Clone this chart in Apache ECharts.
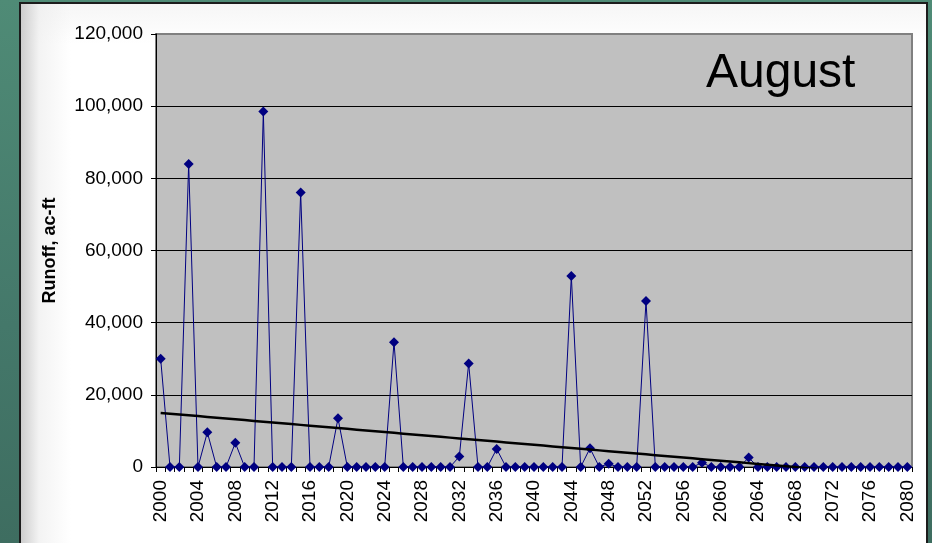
<!DOCTYPE html>
<html>
<head>
<meta charset="utf-8">
<script src="https://cdn.jsdelivr.net/npm/echarts@6/dist/echarts.min.js"></script>
<style>
  html, body { margin: 0; padding: 0; }
  body {
    width: 932px; height: 543px; overflow: hidden; position: relative;
    background: linear-gradient(to bottom, #4f8b76 0%, #44786a 60%, #3e6d60 100%);
  }
  #panel {
    position: absolute; left: 19px; top: 2px; width: 905px; height: 560px;
    border-left: 2px solid #1c1c1c; border-top: 2px solid #1c1c1c; border-right: 2px solid #1c1c1c;
    background:
      linear-gradient(to right, rgba(200,200,200,0.9) 0px, rgba(235,235,235,0.6) 18px, rgba(255,255,255,0) 50px),
      linear-gradient(to bottom, #f6f6f6 0px, #ffffff 40px);
  }
  #chart { position: absolute; left: 0; top: 0; width: 932px; height: 543px; }
</style>
</head>
<body>
<div id="panel"></div>
<div id="chart"></div>
<script>
// Years on the category axis
const years = [
  2000, 2001, 2002, 2003, 2004, 2005, 2006, 2007, 2008, 2009,
  2010, 2011, 2012, 2013, 2014, 2015, 2016, 2017, 2018, 2019,
  2020, 2021, 2022, 2023, 2024, 2025, 2026, 2027, 2028, 2029,
  2030, 2031, 2032, 2033, 2034, 2035, 2036, 2037, 2038, 2039,
  2040, 2041, 2042, 2043, 2044, 2045, 2046, 2047, 2048, 2049,
  2050, 2051, 2052, 2053, 2054, 2055, 2056, 2057, 2058, 2059,
  2060, 2061, 2062, 2063, 2064, 2065, 2066, 2067, 2068, 2069,
  2070, 2071, 2072, 2073, 2074, 2075, 2076, 2077, 2078, 2079,
  2080
];

// August runoff, ac-ft
const runoff = [
  30000, 0, 0, 84000, 0, 9600, 0, 0, 6700, 0,
  0, 98500, 0, 0, 0, 76100, 0, 0, 0, 13500,
  0, 0, 0, 0, 0, 34600, 0, 0, 0, 0,
  0, 0, 2900, 28700, 0, 0, 5000, 0, 0, 0,
  0, 0, 0, 0, 52900, 0, 5200, 0, 900, 0,
  0, 0, 46000, 0, 0, 0, 0, 0, 1200, 0,
  0, 0, 0, 2600, 0, 0, 0, 0, 0, 0,
  0, 0, 0, 0, 0, 0, 0, 0, 0, 0,
  0
];

const yTicks = [0, 20000, 40000, 60000, 80000, 100000, 120000];
const monthTitle = 'August';
const yTitle = 'Runoff, ac-ft';

// Least-squares linear trend of the runoff series
function linearTrend(values) {
  const n = values.length;
  let sx = 0, sy = 0, sxx = 0, sxy = 0;
  values.forEach((v, i) => { sx += i; sy += v; sxx += i * i; sxy += i * v; });
  const slope = (n * sxy - sx * sy) / (n * sxx - sx * sx);
  const icpt = (sy - slope * sx) / n;
  return values.map((_, i) => icpt + slope * i);
}
const trend = linearTrend(runoff);

const chart = echarts.init(document.getElementById('chart'), null, { renderer: 'canvas' });
const fontFam = 'Arial, "Liberation Sans", Helvetica, sans-serif';

chart.setOption({
  backgroundColor: 'transparent',
  animation: false,
  textStyle: { fontFamily: fontFam },
  grid: {
    left: 156, right: 20, top: 34, bottom: 76,
    show: true, backgroundColor: '#c0c0c0', borderColor: '#808080', borderWidth: 2
  },
  title: {
    text: monthTitle, left: 701, top: 45,
    textStyle: { fontFamily: fontFam, fontSize: 48, fontWeight: 'normal', color: '#000' }
  },
  xAxis: {
    type: 'category', data: years, boundaryGap: true,
    axisLine: { lineStyle: { color: '#000', width: 1 } },
    axisTick: { show: true, interval: 0, length: 5, lineStyle: { color: '#000' } },
    axisLabel: { interval: 3, rotate: 90, margin: 13, color: '#000', fontSize: 19, fontFamily: fontFam },
    splitLine: { show: false }
  },
  yAxis: {
    type: 'value', min: yTicks[0], max: yTicks[yTicks.length - 1], interval: 20000,
    name: yTitle, nameLocation: 'middle', nameGap: 97, nameRotate: 90,
    nameTextStyle: { fontFamily: fontFam, fontSize: 18, fontWeight: 'bold', color: '#000' },
    axisLine: { show: true, lineStyle: { color: '#000', width: 1 } },
    axisTick: { show: true, length: 5, lineStyle: { color: '#000' } },
    axisLabel: {
      margin: 13, color: '#000', fontSize: 19, fontFamily: fontFam,
      formatter: v => v.toLocaleString('en-US')
    },
    splitLine: {
      show: true,
      lineStyle: { color: ['#000', '#000', '#000', '#000', '#000', '#000', '#808080'], width: 1 }
    }
  },
  series: [
    {
      name: 'Runoff', type: 'line', data: runoff,
      symbol: 'diamond', symbolSize: 10, showAllSymbol: true,
      lineStyle: { color: '#000080', width: 1 },
      itemStyle: { color: '#000080' },
      z: 3
    },
    {
      name: 'Trend', type: 'line', data: trend,
      symbol: 'none', clip: true,
      lineStyle: { color: '#000', width: 2.5 },
      z: 4
    }
  ]
});
</script>
</body>
</html>
